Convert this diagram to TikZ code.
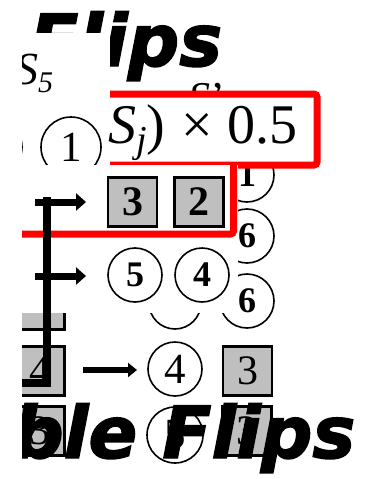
\documentclass[tikz,border=0pt]{standalone}
\usepackage{fontspec}
\setmainfont{Liberation Serif}
\newfontfamily\heavyfont{DejaVu Sans}[BoldItalicFeatures={FakeBold=2}]
\usepackage{tikz}
\usetikzlibrary{arrows.meta,positioning}

\begin{document}
\begin{tikzpicture}[
  x=1pt, y=-1pt,
  disc/.style={draw, circle, line width=1.6pt, inner sep=0pt, minimum size=54pt,
               font=\fontsize{43}{43}\selectfont},
  bdisc/.style={disc, font=\fontsize{36}{36}\selectfont\bfseries},
  tile/.style={draw, line width=2.2pt, fill=black!25, inner sep=0pt, minimum size=49pt,
               font=\fontsize{42}{42}\selectfont},
  btile/.style={tile, font=\fontsize{42}{42}\selectfont\bfseries},
  mask/.style={fill=white},
  hl/.style={draw=red, line width=7pt, rounded corners=3pt},
  ar/.style={-{Triangle[length=10pt,width=17pt]}, line width=7pt},
  heavy/.style={font=\fontsize{72}{72}\selectfont\heavyfont\bfseries\itshape},
]
\useasboundingbox (0,0) rectangle (365,479);

% ---------- title behind everything ----------
\node[heavy, anchor=base west, inner sep=0pt] (ttop) at (29,66) {Flips};
\node[anchor=base west, inner sep=0pt, font=\fontsize{44}{44}\selectfont] (sp) at (188,112) {\textit{S}'};

% ---------- right column of circles ----------
\node[bdisc] (r1) at (247,175) {1};
\node[bdisc] (r6a) at (247,236) {6};
\node[bdisc] (r6b) at (247,301) {6};
\node[disc, minimum size=52pt] (hid) at (175,303) {};
\node[tile] (gu) at (40,305) {};

% ---------- upper left panel ----------
\fill[mask] (0,33) rectangle (110,165);
\node[anchor=base west, inner sep=0pt, font=\fontsize{46}{46}\selectfont] (s5) at (15,84)
  {\textit{S}\raisebox{-8pt}{\fontsize{30}{30}\selectfont\textit{5}}};
\node[disc, minimum size=60pt] (c1) at (71,147) {1};
\node[disc, minimum size=60pt] (c0) at (-8,147) {};

% ---------- red box ----------
\coordinate (rtl) at (110,94);
\coordinate (rbr) at (317,165);
\fill[mask] (rtl) rectangle (rbr);
\draw[hl] (rtl) -| (rbr) -- (rtl |- rbr);
\node[anchor=base west, inner sep=0pt, font=\fontsize{56}{56}\selectfont] (frm) at (108,143)
  {\textit{S}\raisebox{-9pt}{\fontsize{38}{38}\selectfont\textit{j}})\hspace{16pt}×\hspace{15pt}0.5};

% ---------- lower panel ----------
\fill[mask] (22,165) rectangle (238,313);
\draw[hl] (233.5,165) |- (22,234);
\node[btile] (t3) at (132.5,202) {3};
\node[btile] (t2) at (199,202) {2};
\node[bdisc] (c5) at (135,275) {5};
\node[bdisc] (c4) at (202,275) {4};

% ---------- rows below ----------
\node[tile] (g4) at (40,371) {4};
\node[disc] (d4) at (175,369) {4};
\node[tile] (g3) at (247.5,371) {3};
\coordinate (a0) at (83,370);
\coordinate (a1) at (137,370);
\draw[-{Triangle[length=9pt,width=14pt]}, line width=6pt] (a0) -- (a1);

\node[tile] (h3) at (40,431) {3};
\node[disc, minimum size=56pt] (d5) at (175,435) {5};
\node[tile] (h1) at (247,431) {3};

% ---------- bar with arrows ----------
\coordinate (bt) at (47,197);
\coordinate (bb) at (22,383);
\draw[line width=8pt] (bt) |- (bb);
\coordinate (p1) at (35,202);
\coordinate (q1) at (86,202);
\coordinate (p2) at (35,276);
\coordinate (q2) at (86,276);
\draw[ar] (p1) -- (q1);
\draw[ar] (p2) -- (q2);

% ---------- bottom title ----------
\node[heavy, anchor=base west, inner sep=0pt] (tbot) at (12,458) {ble Flips};

\fill[mask] (0,0) rectangle (22,479);
\end{tikzpicture}
\end{document}
